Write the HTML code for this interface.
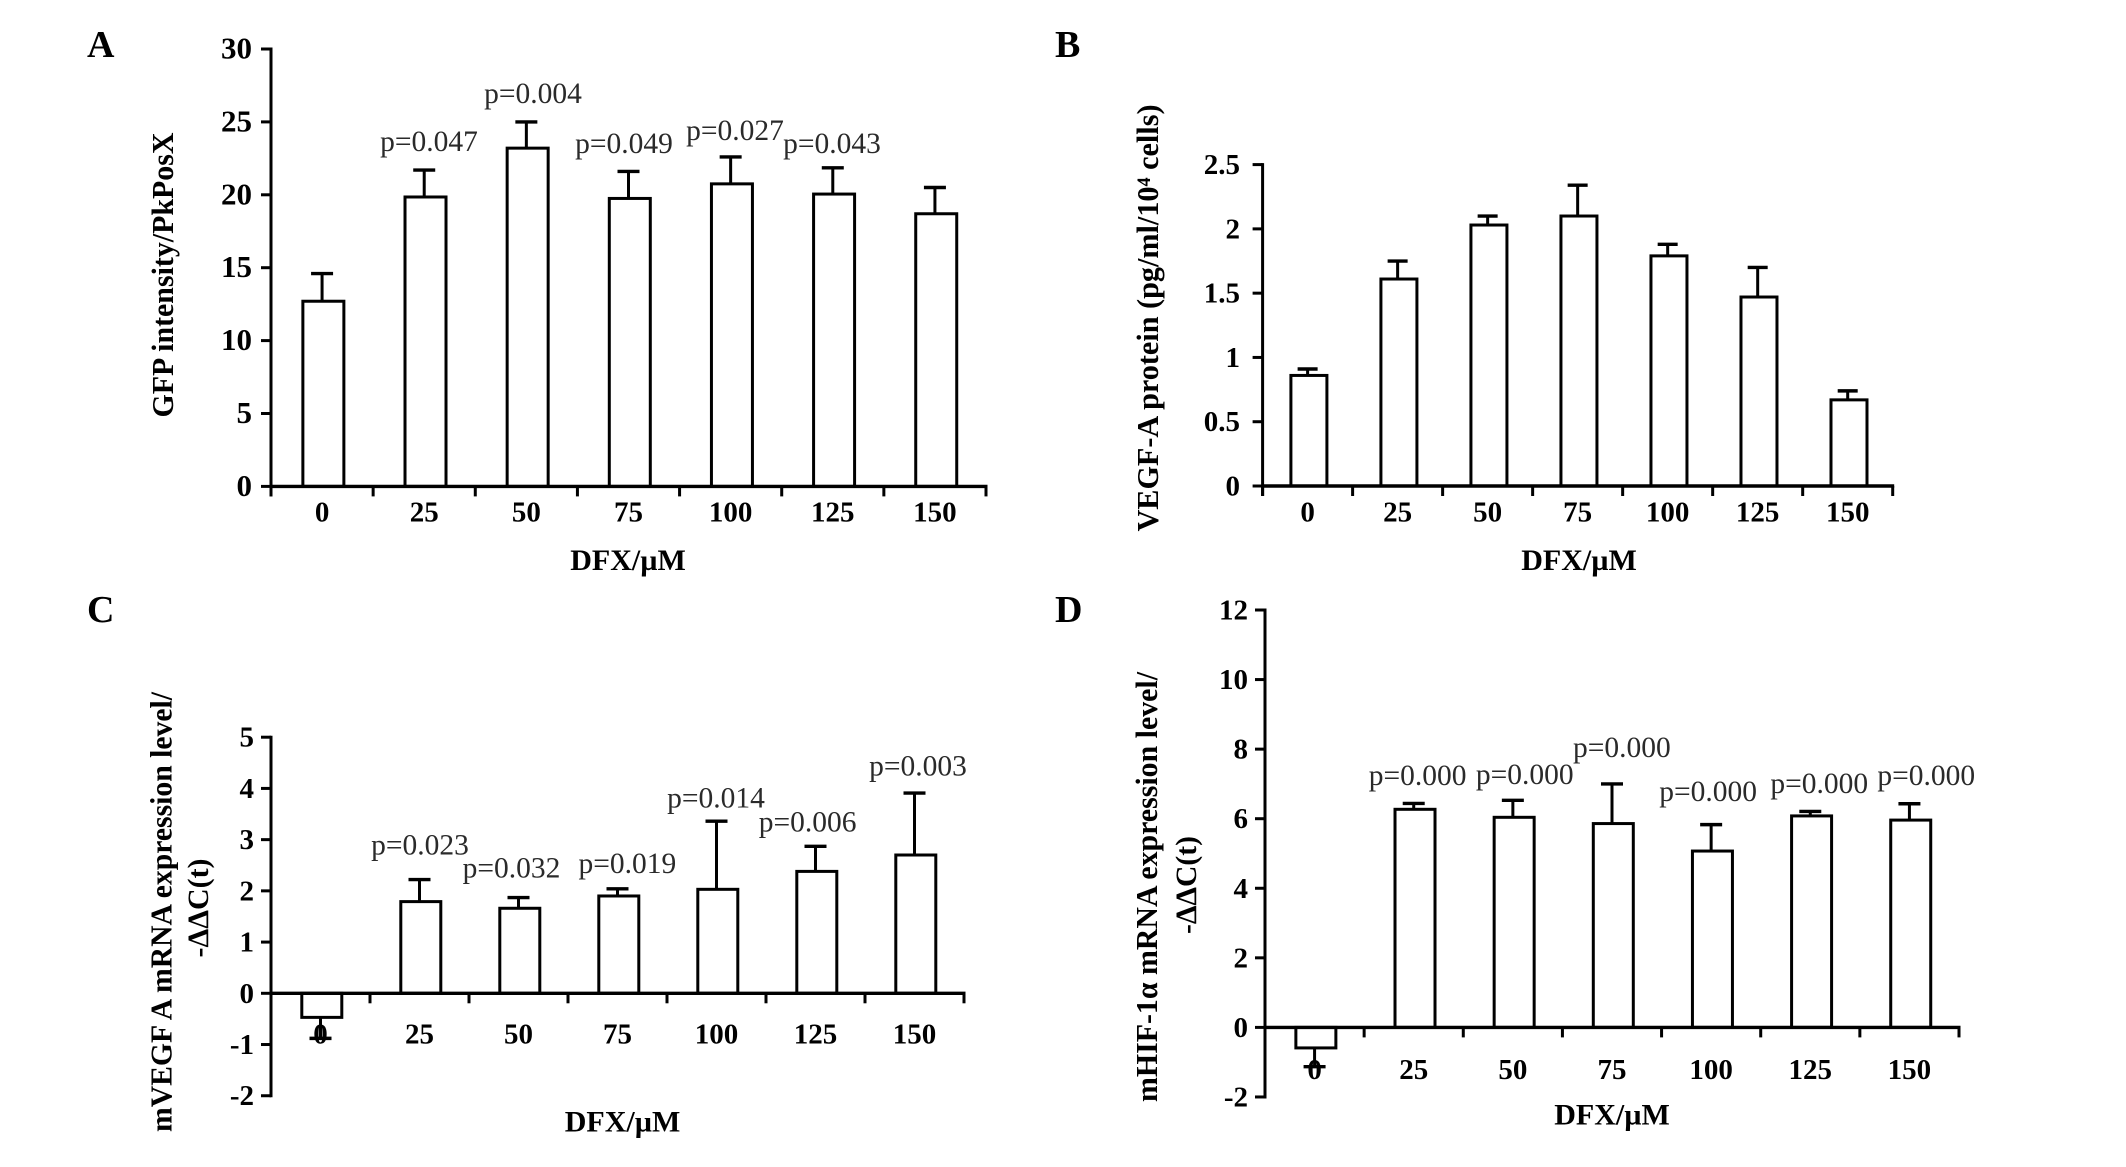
<!DOCTYPE html>
<html lang="en">
<head>
<meta charset="utf-8">
<title>DFX dose response panels</title>
<style>
html,body{margin:0;padding:0;background:#fff;width:2126px;height:1167px;overflow:hidden}
svg{display:block;font-family:"Liberation Serif","DejaVu Serif",serif}
</style>
</head>
<body>
<svg id="figure" xmlns="http://www.w3.org/2000/svg" width="2126" height="1167" viewBox="0 0 2126 1167"></svg>
<script>
const categories = ["0", "25", "50", "75", "100", "125", "150"];

const valuesA = [12.7, 19.85, 23.2, 19.75, 20.75, 20.05, 18.7];
const errorsA = [1.9, 1.85, 1.8, 1.85, 1.85, 1.8, 1.8];
const ticksA = [0, 5, 10, 15, 20, 25, 30];

const valuesB = [0.86, 1.61, 2.03, 2.10, 1.79, 1.47, 0.67];
const errorsB = [0.05, 0.14, 0.07, 0.24, 0.09, 0.23, 0.07];
const ticksB = [0, 0.5, 1, 1.5, 2, 2.5];

const valuesC = [-0.47, 1.79, 1.66, 1.90, 2.03, 2.38, 2.70];
const errorsC = [0.41, 0.43, 0.21, 0.14, 1.33, 0.49, 1.21];
const ticksC = [-2, -1, 0, 1, 2, 3, 4, 5];

const valuesD = [-0.59, 6.27, 6.04, 5.86, 5.07, 6.08, 5.96];
const errorsD = [0.54, 0.17, 0.49, 1.14, 0.76, 0.13, 0.47];
const ticksD = [-2, 0, 2, 4, 6, 8, 10, 12];

const NS = "http://www.w3.org/2000/svg";
const root = document.getElementById("figure");

function addLine(x1, y1, x2, y2, width, name) {
  const el = document.createElementNS(NS, "line");
  el.setAttribute("x1", x1);
  el.setAttribute("y1", y1);
  el.setAttribute("x2", x2);
  el.setAttribute("y2", y2);
  el.setAttribute("stroke", "#000");
  el.setAttribute("stroke-width", width);
  
  
  root.appendChild(el);
  return el;
}

function addText(x, y, str, size, anchor, bold, name) {
  const el = document.createElementNS(NS, "text");
  el.setAttribute("x", x);
  el.setAttribute("y", y);
  el.setAttribute("font-size", size);
  el.setAttribute("text-anchor", anchor);
  el.setAttribute("font-weight", bold ? "bold" : "normal");
  el.setAttribute("fill", "#000");
  el.textContent = str;
  
  
  root.appendChild(el);
  return el;
}

function addRotatedText(x, y, str, size, length, name) {
  const el = addText(x, y, str, size, "middle", true, name);
  el.setAttribute("transform", "rotate(-90 " + x + " " + y + ")");
  el.setAttribute("textLength", length);
  el.setAttribute("lengthAdjust", "spacingAndGlyphs");
  return el;
}

function makePanel(cfg) {
  const n = cfg.values.length;
  const band = (cfg.right - cfg.left) / n;
  const unit = (cfg.zeroY - cfg.topY) / cfg.top;
  const xScale = function (i) { return cfg.left + band * (i + 0.5); };
  const yScale = function (v) { return cfg.zeroY - v * unit; };
  const id = cfg.id;

  cfg.values.forEach(function (v, i) {
    const cx = xScale(i);
    const dir = v < 0 ? -1 : 1;
    const end = yScale(v + dir * cfg.errors[i]);
    addLine(cx, yScale(v), cx, end, 3, "error-bar-" + id + "-" + categories[i]);
    addLine(cx - cfg.cap / 2, end, cx + cfg.cap / 2, end, 3.4, "error-cap-" + id + "-" + categories[i]);
    const bar = document.createElementNS(NS, "rect");
    const w = cfg.barWidth;
    bar.setAttribute("x", cx - w / 2 + 1.3);
    bar.setAttribute("y", Math.min(yScale(v), cfg.zeroY));
    bar.setAttribute("width", w);
    bar.setAttribute("height", Math.abs(yScale(v) - cfg.zeroY));
    bar.setAttribute("fill", "#fff");
    bar.setAttribute("stroke", "#000");
    bar.setAttribute("stroke-width", 3);
    
    
    root.appendChild(bar);
  });

  const low = yScale(cfg.ticks[0]);
  addLine(cfg.left, cfg.topY - 1.5, cfg.left, Math.max(low, cfg.zeroY) + (cfg.ticks[0] === 0 ? 10 : 1.5), 3, "y-axis-" + id);
  addLine(cfg.left, cfg.zeroY, cfg.right + 1.5, cfg.zeroY, 3.4, "x-axis-" + id);

  cfg.ticks.forEach(function (t) {
    const y = yScale(t);
    addLine(cfg.left - 10, y, cfg.left, y, 3, "y-tick-" + id + "-" + t);
    addText(cfg.labelRight, y + 9.5, String(t), cfg.yFont, "end", true, "y-tick-label-" + id + "-" + t);
  });

  for (let i = 0; i <= n; i++) {
    const x = cfg.left + band * i;
    addLine(x, cfg.zeroY, x, cfg.zeroY + 10, 3, "x-tick-" + id + "-" + i);
  }
  categories.forEach(function (c, i) {
    addText(xScale(i), cfg.xLabelY, c, 29, "middle", true, "x-tick-label-" + id + "-" + c);
  });
  return { x: xScale, y: yScale };
}

function annotate(panel, id, cat, level, str) {
  const el = addText(panel.x(cat), panel.y(level), str, 29.5, "middle", false, "p-value-" + id + "-" + cat);
  el.setAttribute("fill", "#2a2a2a");
}

/* Panel A */
const panelA = makePanel({ id: "a", values: valuesA, errors: errorsA, ticks: ticksA, top: 30,
  left: 271, right: 986, topY: 49, zeroY: 486.4, barWidth: 41, cap: 22, labelRight: 252, yFont: 31, xLabelY: 521.5 });
annotate(panelA, "a", 1.047, 23.0, "p=0.047");
annotate(panelA, "a", 2.065, 26.3, "p=0.004");
annotate(panelA, "a", 2.956, 22.87, "p=0.049");
annotate(panelA, "a", 4.043, 23.76, "p=0.027");
annotate(panelA, "a", 4.992, 22.87, "p=0.043");
addText(87, 57, "A", 38, "start", true, "panel-label-a");
addRotatedText(173, 275, "GFP intensity/PkPosX", 31, 285, "y-axis-title-a");
addText(628, 570, "DFX/\u00b5M", 30, "middle", true, "x-axis-title-a");

/* Panel B */
const panelB = makePanel({ id: "b", values: valuesB, errors: errorsB, ticks: ticksB, top: 2.5,
  left: 1262.6, right: 1892.7, topY: 164.6, zeroY: 486, barWidth: 36, cap: 20, labelRight: 1240, yFont: 29, xLabelY: 521.5 });
addText(1055, 57, "B", 38, "start", true, "panel-label-b");
addRotatedText(1158, 318, "VEGF-A protein (pg/ml/10\u2074 cells)", 31, 427, "y-axis-title-b");
addText(1579, 570, "DFX/\u00b5M", 30, "middle", true, "x-axis-title-b");

/* Panel C */
const panelC = makePanel({ id: "c", values: valuesC, errors: errorsC, ticks: ticksC, top: 5,
  left: 271, right: 964, topY: 737.2, zeroY: 993.3, barWidth: 40, cap: 22, labelRight: 254, yFont: 29, xLabelY: 1043.5 });
annotate(panelC, "c", 1.005, 2.71, "p=0.023");
annotate(panelC, "c", 1.93, 2.26, "p=0.032");
annotate(panelC, "c", 3.10, 2.35, "p=0.019");
annotate(panelC, "c", 3.995, 3.63, "p=0.014");
annotate(panelC, "c", 4.92, 3.16, "p=0.006");
annotate(panelC, "c", 6.035, 4.25, "p=0.003");
addText(87, 622, "C", 38, "start", true, "panel-label-c");
addRotatedText(171.5, 912, "mVEGF A mRNA expression level/", 31, 440, "y-axis-title-c");
addRotatedText(208, 908, "-\u0394\u0394C(t)", 30, 99, "y-axis-title-c-second-line");
addText(622.5, 1131.5, "DFX/\u00b5M", 30, "middle", true, "x-axis-title-c");

/* Panel D */
const panelD = makePanel({ id: "d", values: valuesD, errors: errorsD, ticks: ticksD, top: 12,
  left: 1265, right: 1959, topY: 610, zeroY: 1027.4, barWidth: 40, cap: 22, labelRight: 1248, yFont: 29, xLabelY: 1079 });
annotate(panelD, "d", 1.04, 6.97, "p=0.000");
annotate(panelD, "d", 2.12, 7.0, "p=0.000");
annotate(panelD, "d", 3.10, 7.77, "p=0.000");
annotate(panelD, "d", 3.97, 6.51, "p=0.000");
annotate(panelD, "d", 5.09, 6.74, "p=0.000");
annotate(panelD, "d", 6.17, 6.97, "p=0.000");
addText(1055, 622, "D", 38, "start", true, "panel-label-d");
addRotatedText(1157, 887, "mHIF-1\u03b1 mRNA expression level/", 31, 430, "y-axis-title-d");
addRotatedText(1196, 885, "-\u0394\u0394C(t)", 30, 98, "y-axis-title-d-second-line");
addText(1612, 1124.5, "DFX/\u00b5M", 30, "middle", true, "x-axis-title-d");
</script>
</body>
</html>
